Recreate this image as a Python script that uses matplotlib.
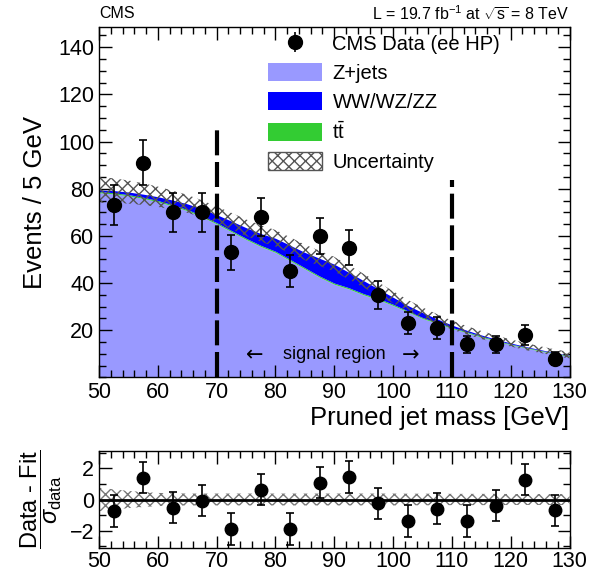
import numpy as np
import matplotlib
matplotlib.use("Agg")
import matplotlib.pyplot as plt
from matplotlib.patches import Patch
from matplotlib.ticker import MultipleLocator

plt.rcParams['font.family'] = ['Liberation Sans', 'DejaVu Sans']
plt.rcParams['mathtext.fontset'] = 'custom'
plt.rcParams['mathtext.rm'] = 'Liberation Sans'
plt.rcParams['mathtext.it'] = 'Liberation Sans:italic'
plt.rcParams['mathtext.bf'] = 'Liberation Sans:bold'
plt.rcParams['hatch.linewidth'] = 1.0

# ---- data ----
bin_centers = [52.5, 57.5, 62.5, 67.5, 72.5, 77.5, 82.5, 87.5,
               92.5, 97.5, 102.5, 107.5, 112.5, 117.5, 122.5, 127.5]
data_counts = [73, 91, 70, 70, 53, 68, 45, 60, 55, 35, 23, 21, 14, 14, 18, 8]
pulls = [-0.73, 1.39, -0.53, -0.08, -1.88, 0.63, -1.88, 1.08,
         1.43, -0.24, -1.37, -0.59, -1.37, -0.39, 1.27, -0.69]

mass = [50, 52.5, 55, 57.5, 60, 62.5, 65, 67.5, 70, 72.5, 75, 77.5, 80, 82.5,
        85, 87.5, 90, 92.5, 95, 97.5, 100, 102.5, 105, 107.5, 110, 112.5,
        115, 117.5, 120, 122.5, 125, 127.5, 130]
zjets = [78.3, 77.8, 77.0, 75.9, 74.5, 72.7, 70.7, 68.1, 65.1, 61.8, 58.5,
         55.5, 53.0, 49.5, 46.0, 42.5, 39.5, 37.5, 35.0, 33.0, 30.5, 27.8,
         25.0, 22.9, 20.8, 19.0, 17.1, 15.4, 13.9, 12.5, 11.2, 10.0, 8.9]
ttbar = [0.5, 0.5, 0.5, 0.5, 0.5, 0.5, 0.5, 0.5, 0.5, 0.5, 0.5, 0.5, 0.5,
         0.5, 0.5, 0.5, 0.5, 0.5, 0.5, 0.5, 0.5, 0.4, 0.4, 0.4, 0.4, 0.4,
         0.4, 0.4, 0.3, 0.3, 0.3, 0.3, 0.3]
diboson = [0.7, 0.9, 1.1, 1.3, 1.6, 2.0, 2.4, 2.9, 3.4, 4.0, 4.5, 5.0, 5.5,
           6.0, 6.5, 7.5, 8.0, 6.5, 5.5, 4.0, 3.0, 2.3, 2.1, 1.5, 1.0, 0.6,
           0.5, 0.4, 0.4, 0.3, 0.3, 0.2, 0.2]
fit_unc = [5.5, 5.2, 4.9, 4.6, 4.3, 4.0, 3.8, 3.6, 3.5, 3.5, 3.5, 3.5, 3.5,
           3.4, 3.3, 3.2, 3.1, 3.0, 2.9, 2.8, 2.6, 2.4, 2.2, 2.0, 1.9, 1.8,
           1.7, 1.6, 1.5, 1.5, 1.4, 1.4, 1.4]
pull_unc = [0.75, 0.65, 0.55, 0.48, 0.42, 0.40, 0.38, 0.38, 0.38, 0.38, 0.38,
            0.38, 0.38, 0.38, 0.38, 0.38, 0.38, 0.38, 0.38, 0.38, 0.38, 0.37,
            0.37, 0.37, 0.36, 0.36, 0.36, 0.36, 0.35, 0.35, 0.35, 0.35, 0.35]

signal_lo, signal_hi = 70, 110
xticks = [50, 60, 70, 80, 90, 100, 110, 120, 130]

# ---- figure ----
W, H = 604, 574
fig = plt.figure(figsize=(W / 100, H / 100), dpi=100)

def frac(l, t, r, b):
    return [l / W, 1 - b / H, (r - l) / W, (b - t) / H]

ax = fig.add_axes(frac(99, 26.7, 569.5, 377.4))
axr = fig.add_axes(frac(99, 451, 569.5, 548))

m = np.array(mass)
z = np.array(zjets)
tt = np.array(ttbar)
vv = np.array(diboson)
s1 = z
s2 = z + tt
s3 = z + tt + vv
u = np.array(fit_unc)

col_z = '#9999ff'
col_tt = '#33cc33'
col_vv = '#0000ff'

ax.fill_between(m, 0, s1, color=col_z, lw=0, zorder=1)
ax.fill_between(m, s1, s2, color=col_tt, lw=0, zorder=1)
ax.fill_between(m, s2, s3, color=col_vv, lw=0, zorder=1)
ax.fill_between(m, s3 - u, s3 + u, facecolor='none', edgecolor='#555555',
                hatch='xxx', lw=0, zorder=2)

ax.vlines([signal_lo], 0, 105.5, colors='black', linestyles=(0, (6, 1.6)),
          lw=3, zorder=3)
ax.vlines([signal_hi], 0, 83.7, colors='black', linestyles=(0, (6, 1.6)),
          lw=3, zorder=3)

d = np.array(data_counts, dtype=float)
ax.errorbar(bin_centers, d, yerr=np.sqrt(d), fmt='o', color='black',
            ms=10, elinewidth=1.2, capsize=3, capthick=1.2, zorder=5)

ax.text(90, 9.5, 'signal region', ha='center', va='center', fontsize=13)
ax.text(76.5, 9.5, '\u2190', ha='center', va='center', fontsize=15,
        family=['DejaVu Sans'])
ax.text(103.0, 9.5, '\u2192', ha='center', va='center', fontsize=15,
        family=['DejaVu Sans'])

ax.set_xlim(50, 130)
ax.set_ylim(0, 148.7)
ax.xaxis.set_major_locator(MultipleLocator(10))
ax.xaxis.set_minor_locator(MultipleLocator(2))
ax.yaxis.set_minor_locator(MultipleLocator(5))
ax.set_yticks([20, 40, 60, 80, 100, 120, 140])
ax.set_xticks(xticks)
ax.set_xlabel('Pruned jet mass [GeV]', fontsize=18.5, loc='right', labelpad=2)
ax.set_ylabel('Events / 5 GeV', fontsize=18.5, labelpad=8)

for a in (ax, axr):
    a.tick_params(which='both', direction='in', top=True, right=True,
                  labelsize=15.5, width=1)
    a.tick_params(which='major', length=9)
    a.tick_params(which='minor', length=5)
    for sp in a.spines.values():
        sp.set_linewidth(1)
axr.tick_params(axis='x', which='both', pad=2)

# legend
h_data = ax.errorbar([], [], yerr=[], fmt='o', color='black', ms=10,
                     elinewidth=1.2)
handles = [h_data,
           Patch(facecolor=col_z, edgecolor='none'),
           Patch(facecolor=col_vv, edgecolor='none'),
           Patch(facecolor=col_tt, edgecolor='none'),
           Patch(facecolor='white', edgecolor='#555555', hatch='xxx', lw=1)]
labels = ['CMS Data (ee HP)', 'Z+jets', 'WW/WZ/ZZ', r'$\mathrm{t\bar{t}}$',
          'Uncertainty']
fig.legend(handles, labels, loc='upper left',
           bbox_to_anchor=(268 / W, 1 - 34 / H), frameon=False,
           fontsize=14.5, handlelength=2.7, handleheight=1.0,
           handletextpad=0.5, labelspacing=0.45, borderpad=0,
           borderaxespad=0)

fig.text(99 / W, 1 - 14 / H, 'CMS', ha='left', va='center', fontsize=11.5)
fig.text(569.5 / W, 1 - 14 / H, r'L = 19.7 fb$^{-1}$ at $\sqrt{\mathrm{s}}$ = 8 TeV',
         ha='right', va='center', fontsize=11.5)

# ratio panel
pu = np.array(pull_unc)
axr.fill_between(m, -pu, pu, facecolor='none', edgecolor='#777777',
                 hatch='xxx', lw=0, zorder=1)
axr.axhline(0, color='black', lw=2, zorder=2)
axr.errorbar(bin_centers, pulls, yerr=np.ones(len(pulls)), fmt='o',
             color='black', ms=9, elinewidth=1.2, capsize=3, capthick=1.2,
             zorder=5)
axr.set_xlim(50, 130)
axr.set_ylim(-3.1, 3.1)
axr.set_xticks(xticks)
axr.xaxis.set_minor_locator(MultipleLocator(2))
axr.set_yticks([-2, 0, 2])
axr.yaxis.set_minor_locator(MultipleLocator(1))
axr.set_ylabel(r'$\dfrac{\text{Data - Fit}}{\sigma_{\text{data}}}$',
               fontsize=17, labelpad=4)

fig.savefig('out.png', dpi=100)
